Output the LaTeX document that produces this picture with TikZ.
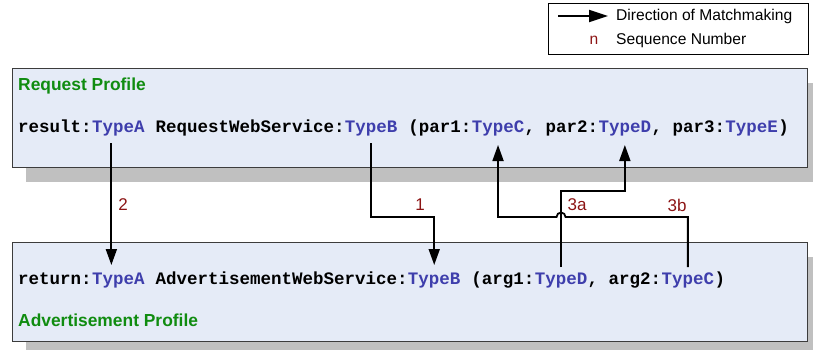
\documentclass[tikz,border=0pt]{standalone}
\usepackage{fontspec}
\setmainfont{Liberation Sans}
\newfontfamily\codefont{Liberation Mono}
\usetikzlibrary{arrows.meta,shadows}
\definecolor{boxfill}{RGB}{229,235,247}
\definecolor{shadowc}{RGB}{192,192,192}
\definecolor{bordc}{RGB}{60,60,60}
\definecolor{headc}{RGB}{16,140,16}
\definecolor{typec}{RGB}{62,62,172}
\definecolor{numc}{RGB}{140,20,20}
\tikzset{
  profbox/.style={draw=bordc, line width=0.9pt, fill=boxfill, anchor=north west,
    inner sep=0pt, minimum width=795pt, minimum height=99pt,
    drop shadow={shadow xshift=14pt, shadow yshift=-15pt, fill=shadowc, opacity=1}},
  seg/.style={inner sep=0pt, anchor=base west, font=\codefont\bfseries\fontsize{17.5}{20}\selectfont},
  ty/.style={seg, text=typec},
  head/.style={inner sep=0pt, anchor=base west, text=headc, font=\bfseries\fontsize{17.4}{20}\selectfont},
  seqnum/.style={inner sep=0pt, text=numc, font=\fontsize{17}{20}\selectfont},
  legtext/.style={inner sep=0pt, anchor=west, font=\fontsize{15.6}{18}\selectfont},
  arr/.style={line width=1.8pt, -{Triangle[length=16pt,width=11pt]}},
}
\begin{document}
\begin{tikzpicture}[x=1pt,y=-1pt]
\useasboundingbox (0,0) rectangle (813,350);
% legend
\node[draw=black, line width=0.9pt, anchor=north west, minimum width=260pt, minimum height=51pt, inner sep=0pt] (legend) at (548,3) {};
\coordinate (legA) at (558,16);
\node[legtext] (legdir) at (616,16) {Direction of Matchmaking};
\node[inner sep=0pt, text=numc, font=\fontsize{15.6}{18}\selectfont] (legn) at (594,40) {n};
\node[legtext] (legseq) at (616,40) {Sequence Number};
\draw[line width=1.8pt, -{Triangle[length=19pt,width=12pt]}] (legA) -- ([xshift=-8pt]legdir.west);
% boxes
\node[profbox] (req) at (12,68) {};
\node[profbox] (adv) at (12,242) {};
\node[head] (reqh) at (18,91) {Request Profile};
\node[head] (advh) at (18,326) {Advertisement Profile};
% request line
\node[seg] (r0) at (18,132) {result:};
\node[ty]  (rA) at (r0.base east) {TypeA};
\node[seg] (r1) at (rA.base east) {\ RequestWebService:};
\node[ty]  (rB) at (r1.base east) {TypeB};
\node[seg] (r2) at (rB.base east) {\ (par1:};
\node[ty]  (rC) at (r2.base east) {TypeC};
\node[seg] (r3) at (rC.base east) {,\ par2:};
\node[ty]  (rD) at (r3.base east) {TypeD};
\node[seg] (r4) at (rD.base east) {,\ par3:};
\node[ty]  (rE) at (r4.base east) {TypeE};
\node[seg] (r5) at (rE.base east) {)};
% advertisement line
\node[seg] (a0) at (18,284) {return:};
\node[ty]  (aA) at (a0.base east) {TypeA};
\node[seg] (a1) at (aA.base east) {\ AdvertisementWebService:};
\node[ty]  (aB) at (a1.base east) {TypeB};
\node[seg] (a2) at (aB.base east) {\ (arg1:};
\node[ty]  (aD) at (a2.base east) {TypeD};
\node[seg] (a3) at (aD.base east) {,\ arg2:};
\node[ty]  (aC) at (a3.base east) {TypeC};
\node[seg] (a4) at (aC.base east) {)};
% connectors
\draw[arr] ([xshift=-7pt,yshift=-11pt]rA.base) -- ([xshift=-7pt,yshift=19pt]aA.base);
\draw[arr] ([yshift=-11pt]rB.base) -- ([yshift=-85pt]rB.base) -| ([yshift=19pt]aB.base);
\draw[arr] ([yshift=17pt]aD.base) -- ([yshift=93pt]aD.base) -| ([yshift=-13pt]rD.base);
\draw[arr] ([yshift=17pt]aC.base) -- ([yshift=67pt]aC.base) -- ([xshift=4.5pt,yshift=67pt]aD.base)
  arc[start angle=0, end angle=180, radius=4.5pt] -| ([yshift=-13pt]rC.base);
% sequence numbers
\node[seqnum] (n2) at (123,205) {2};
\node[seqnum] (n1) at (420,205) {1};
\node[seqnum] (n3a) at (577,205) {3a};
\node[seqnum] (n3b) at (677,205) {3b};
\end{tikzpicture}
\end{document}
